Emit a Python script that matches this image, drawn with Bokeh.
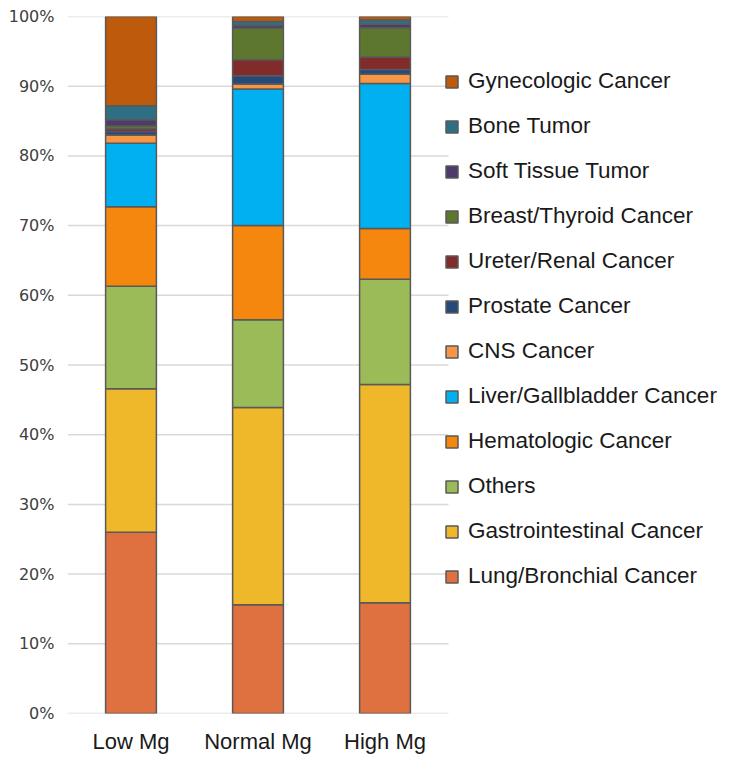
from bokeh.plotting import figure
from bokeh.models import ColumnDataSource, Legend, LegendItem, FixedTicker, NumeralTickFormatter, Range1d
from bokeh.embed import file_html
from bokeh.resources import INLINE

groups = ["Low Mg", "Normal Mg", "High Mg"]

series = ["Lung/Bronchial Cancer", "Gastrointestinal Cancer", "Others", "Hematologic Cancer",
          "Liver/Gallbladder Cancer", "CNS Cancer", "Prostate Cancer", "Ureter/Renal Cancer",
          "Breast/Thyroid Cancer", "Soft Tissue Tumor", "Bone Tumor", "Gynecologic Cancer"]

lung = [26.0, 15.6, 15.9]
gastro = [20.6, 28.3, 31.3]
others = [14.7, 12.6, 15.1]
hemato = [11.4, 13.5, 7.3]
liver = [9.1, 19.6, 20.8]
cns = [1.2, 0.7, 1.3]
prostate = [0.5, 1.2, 0.7]
ureter = [0.4, 2.3, 1.8]
breast = [0.4, 4.5, 4.2]
soft = [0.9, 0.4, 0.5]
bone = [2.0, 0.6, 0.6]
gyne = [12.8, 0.7, 0.5]

y_ticks = [0.0, 0.1, 0.2, 0.3, 0.4, 0.5, 0.6, 0.7, 0.8, 0.9, 1.0]

colors = ["#DF7040", "#EFB82A", "#9BBB59", "#F5870F", "#00B0F0", "#F79646",
          "#26497C", "#822B2B", "#5E772F", "#4D3B6B", "#2E6F83", "#BE5A0C"]

values = [lung, gastro, others, hemato, liver, cns, prostate, ureter, breast, soft, bone, gyne]
keys = ["s%d" % i for i in range(len(series))]
xpos = [i + 0.5 for i in range(len(groups))]
data = {"x": xpos}
for k, v in zip(keys, values):
    data[k] = [x / 100.0 for x in v]
source = ColumnDataSource(data)

# layout: figure 728px wide, left border 67px, of which 381px of frame hold the three categories
fig_w = 728
left_border = 67
frame_w = fig_w - left_border
cat_w = 381
x_end = len(groups) * frame_w / cat_w

p = figure(x_range=Range1d(0, x_end), y_range=Range1d(0, 1),
           width=fig_w, height=763, output_backend="svg", toolbar_location=None,
           min_border_left=left_border, min_border_right=0, min_border_top=16, min_border_bottom=50)

# horizontal grid lines limited to the category area
p.segment(x0=[0] * len(y_ticks), x1=[len(groups)] * len(y_ticks), y0=y_ticks, y1=y_ticks,
          line_color="#D9D9D9", line_width=1.5, level="underlay")

renderers = p.vbar_stack(keys, x="x", width=0.4, source=source, color=colors,
                         line_color="#595959", line_width=1.5)

items = [LegendItem(label=series[i], renderers=[renderers[i]]) for i in range(len(series))][::-1]
legend = Legend(items=items, location=(377, 124), padding=0, margin=0, spacing=19,
                glyph_width=15, glyph_height=15, label_height=22, label_standoff=9,
                label_text_font="Liberation Sans", label_text_font_size="22.5px",
                label_text_color="#1a1a1a", border_line_color=None, background_fill_alpha=0)
p.add_layout(legend, "center")

p.outline_line_color = None
p.grid.visible = False
p.yaxis.ticker = FixedTicker(ticks=y_ticks)
p.yaxis.formatter = NumeralTickFormatter(format="0%")
p.yaxis.axis_line_color = None
p.yaxis.major_tick_line_color = None
p.yaxis.major_tick_out = 0
p.yaxis.minor_tick_line_color = None
p.yaxis.major_label_text_font = "DejaVu Sans"
p.yaxis.major_label_text_font_size = "16px"
p.yaxis.major_label_text_color = "#404040"
p.yaxis.major_label_standoff = 13

p.xaxis.ticker = FixedTicker(ticks=xpos)
p.xaxis.major_label_overrides = {x: g for x, g in zip(xpos, groups)}
p.xaxis.axis_line_color = None
p.xaxis.major_tick_line_color = None
p.xaxis.major_tick_out = 0
p.xaxis.minor_tick_line_color = None
p.xaxis.major_label_text_font = "Liberation Sans"
p.xaxis.major_label_text_font_size = "22px"
p.xaxis.major_label_text_color = "#1a1a1a"
p.xaxis.major_label_standoff = 15

open("out.html", "w").write(file_html(p, INLINE))
